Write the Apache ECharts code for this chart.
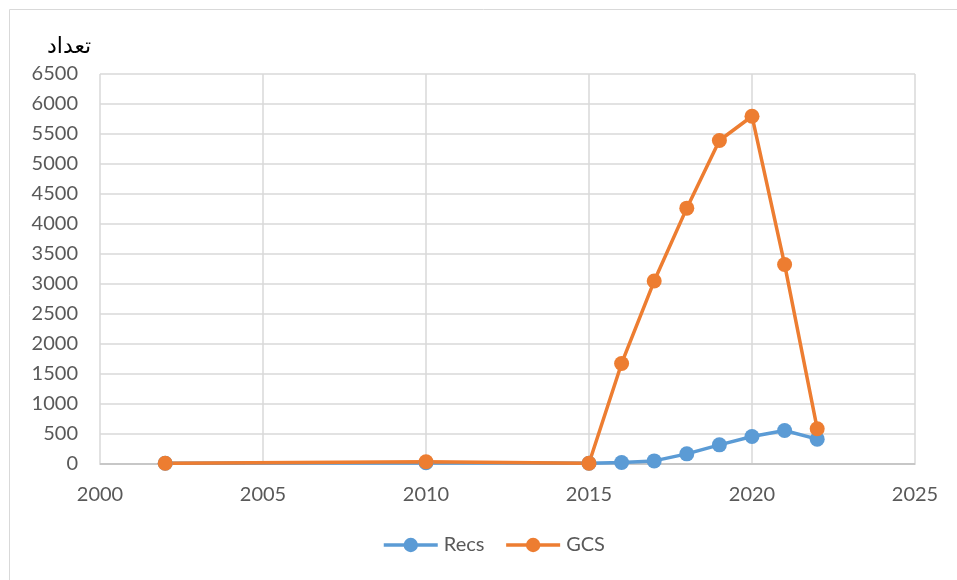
<!DOCTYPE html>
<html><head><meta charset="utf-8">
<script src="https://cdn.jsdelivr.net/npm/echarts@6/dist/echarts.min.js"></script>
<style>html,body{margin:0;padding:0;background:#fff}#c{width:957px;height:580px}</style>
</head><body><div id="c"></div>
<script>
const years = [2002, 2010, 2015, 2016, 2017, 2018, 2019, 2020, 2021, 2022];
const recs = [0, 10, 0, 13, 40, 158, 308, 447, 547, 403];
const gcs = [0, 25, 0, 1667, 3043, 4260, 5390, 5795, 3320, 578];
const yTitle = 'تعداد';

const chart = echarts.init(document.getElementById('c'));
const font = 'Lato, "Open Sans", sans-serif';
chart.setOption({
  animation: false,
  graphic: [
    {type:'rect', shape:{x:9.5,y:9.5,width:960,height:600}, style:{fill:'none', stroke:'#d9d9d9', lineWidth:1}, silent:true},
    {type:'text', left: 47, top: 36, style:{text: yTitle, fill:'#000', font:'22px "DejaVu Sans"'}, silent:true}
  ],
  grid: {left: 100, right: 42, top: 74, bottom: 116.7},
  legend: {
    bottom: 20, left: 377, itemWidth: 54, itemHeight: 18, itemGap: 20,
    lineStyle: {width: 3.5},
    textStyle: {color:'#595959', fontSize: 20, fontFamily: font, padding:[0,0,0,1]},
    data: ['Recs', 'GCS']
  },
  xAxis: {
    type: 'value', min: 2000, max: 2025, interval: 5,
    axisLine: {show: true, lineStyle: {color:'#bfbfbf', width: 1.5}},
    axisTick: {show: false},
    splitLine: {show: true, lineStyle: {color:'#d9d9d9', width: 1.5}},
    axisLabel: {color:'#595959', fontSize: 20, fontFamily: font, margin: 21, formatter: v => String(v)}
  },
  yAxis: {
    type: 'value', min: 0, max: 6500, interval: 500,
    axisLine: {show: false},
    axisTick: {show: false},
    splitLine: {show: true, lineStyle: {color:'#d9d9d9', width: 1.5}},
    axisLabel: {color:'#595959', fontSize: 20, fontFamily: font, margin: 22, formatter: v => String(v)}
  },
  series: [
    {name:'Recs', type:'line', data: years.map((y,i)=>[y, recs[i]]), symbol:'circle', symbolSize: 15,
     itemStyle:{color:'#5B9BD5'}, lineStyle:{color:'#5B9BD5', width: 3.5}},
    {name:'GCS', type:'line', data: years.map((y,i)=>[y, gcs[i]]), symbol:'circle', symbolSize: 15,
     itemStyle:{color:'#ED7D31'}, lineStyle:{color:'#ED7D31', width: 3.5}}
  ]
});
</script></body></html>
